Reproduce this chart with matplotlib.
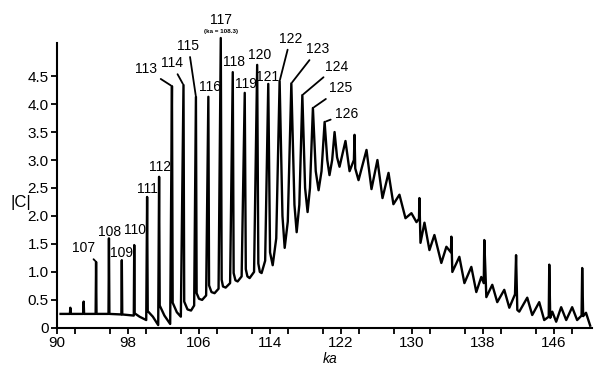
import matplotlib
matplotlib.use("Agg")
import matplotlib.pyplot as plt
from matplotlib.ticker import MultipleLocator, FixedLocator

plt.rcParams['font.family'] = ['Liberation Sans Narrow', 'Liberation Sans', 'DejaVu Sans']

# |C| against ka, vertices of the traced curve
ka = [90.4,
      91.45, 91.5, 91.55, 92.95, 93.0, 93.05,
      94.35, 94.4, 94.45, 95.8, 95.85, 95.9,
      97.25, 97.3, 97.35, 98.65, 98.7, 98.75,
      99.3, 100.05, 100.15, 100.22, 100.8, 101.4, 101.5, 101.57,
      102.1, 102.75, 102.95, 103.03, 103.5, 103.95, 104.25, 104.33,
      104.7, 105.1, 105.45, 105.65, 105.73,
      106.0, 106.35, 106.8, 107.05, 107.13,
      107.4, 107.75, 108.2, 108.45, 108.55,
      108.7, 109.0, 109.5, 109.8, 109.9,
      110.1, 110.35, 110.8, 111.15, 111.27,
      111.45, 111.7, 112.2, 112.55, 112.68,
      112.85, 113.05, 113.45, 113.8, 114.0,
      114.3, 114.7, 115.08, 115.4, 115.65, 116.0, 116.4, 116.75,
      117.0, 117.3, 117.64, 117.95, 118.23, 118.5, 118.83, 119.15,
      119.47, 119.8, 120.15, 120.45, 120.7, 121.0, 121.27, 121.55,
      121.83, 122.5, 122.96, 123.45, 123.52, 123.6, 123.97, 124.87,
      125.43, 126.1, 126.67, 127.35, 127.9, 128.58, 129.26, 129.93,
      130.5, 130.78, 130.83, 130.95, 131.4, 131.96, 132.52, 133.3,
      133.87, 134.38, 134.43, 134.54, 135.33, 135.9, 136.68, 137.24,
      137.8, 138.08, 138.14, 138.37, 139.04, 139.6, 140.39, 140.96,
      141.6, 141.72, 141.86, 142.08, 142.98, 143.54, 144.33, 144.89,
      145.4, 145.46, 145.57, 145.8, 146.24, 146.8, 147.37, 148.04,
      148.6, 149.1, 149.17, 149.28, 149.6, 150.07]
absC = [0.25,
        0.25, 0.36, 0.25, 0.25, 0.47, 0.25,
        0.25, 1.18, 0.25, 0.25, 1.60, 0.25,
        0.24, 1.21, 0.24, 0.22, 1.48, 0.26,
        0.20, 0.14, 2.34, 0.30, 0.20, 0.05, 2.70, 0.40,
        0.22, 0.07, 4.32, 0.45, 0.28, 0.20, 4.34, 0.47,
        0.33, 0.31, 0.40, 4.13, 0.62,
        0.52, 0.50, 0.58, 4.13, 0.76,
        0.64, 0.62, 0.70, 5.18, 0.86,
        0.74, 0.72, 0.80, 4.57, 0.98,
        0.85, 0.83, 0.92, 4.20, 1.05,
        0.92, 0.89, 1.00, 4.70, 1.15,
        1.00, 0.98, 1.20, 4.36, 1.35,
        1.12, 1.60, 4.41, 2.00, 1.43, 1.90, 4.37, 2.20,
        1.71, 2.20, 4.16, 2.50, 2.07, 2.50, 3.93, 2.80,
        2.46, 2.80, 3.68, 3.00, 2.73, 3.00, 3.50, 3.05,
        2.88, 3.34, 2.80, 3.00, 3.45, 2.85, 2.64, 3.18,
        2.48, 3.00, 2.32, 2.77, 2.21, 2.38, 1.96, 2.05,
        1.89, 1.95, 2.32, 1.52, 1.88, 1.39, 1.66, 1.16,
        1.45, 1.35, 1.63, 1.00, 1.27, 0.80, 1.09, 0.64,
        0.91, 0.80, 1.57, 0.55, 0.77, 0.46, 0.68, 0.36,
        0.60, 1.30, 0.32, 0.29, 0.54, 0.23, 0.46, 0.14,
        0.20, 1.13, 0.18, 0.29, 0.11, 0.37, 0.14, 0.37,
        0.14, 0.22, 1.07, 0.21, 0.27, 0.04]

# mode numbers n and their resonance peaks (ka, |C|)
modes = [107, 108, 109, 110, 111, 112, 113, 114, 115, 116,
         117, 118, 119, 120, 121, 122, 123, 124, 125, 126]
mode_ka = [94.4, 95.85, 97.3, 98.7, 100.15, 101.5, 102.95, 104.25, 105.65, 107.05,
           108.45, 109.8, 111.15, 112.55, 113.8, 115.08, 116.4, 117.64, 118.83, 120.15]
mode_c = [1.18, 1.60, 1.21, 1.48, 2.34, 2.70, 4.32, 4.34, 4.13, 4.13,
          5.18, 4.57, 4.20, 4.70, 4.36, 4.41, 4.37, 4.16, 3.93, 3.68]

# where each mode number is written, and whether a leader line joins it to the peak
label_pos = {107: (92.95, 1.42, True), 108: (95.9, 1.72, False), 109: (97.3, 1.34, False),
             110: (98.8, 1.75, False), 111: (100.15, 2.49, False), 112: (101.6, 2.88, False),
             113: (100.0, 4.62, True), 114: (102.9, 4.73, True), 115: (104.8, 5.04, True),
             116: (107.2, 4.31, False), 117: (108.5, 5.50, False), 118: (109.9, 4.76, False),
             119: (111.25, 4.36, False), 120: (112.8, 4.88, False), 121: (113.75, 4.49, False),
             122: (116.3, 5.17, True), 123: (119.4, 4.98, True), 124: (121.45, 4.67, True),
             125: (122.0, 4.28, True), 126: (122.6, 3.83, True)}

fig = plt.figure(figsize=(5.94, 3.68), dpi=100)
ax = fig.add_axes([0.096, 0.109, 0.901, 0.774])

ax.plot(ka, absC, color='black', lw=1.7, solid_joinstyle='round', clip_on=False)

for n, x, c in zip(modes, mode_ka, mode_c):
    tx, ty, leader = label_pos[n]
    if leader:
        ax.annotate(str(n), xy=(x, c), xytext=(tx, ty), ha='center', va='center',
                    fontsize=10, annotation_clip=False,
                    arrowprops=dict(arrowstyle='-', lw=1.3, color='black',
                                    shrinkA=1, shrinkB=1))
    else:
        ax.text(tx, ty, str(n), ha='center', va='center', fontsize=10, clip_on=False)

ax.text(108.5, 5.29, '(ka = 108.3)', ha='center', va='center', fontsize=4.5,
        fontweight='bold', clip_on=False)

ax.set_xlim(90, 150.3)
ax.set_ylim(0, 5.09)
ax.spines['top'].set_visible(False)
ax.spines['right'].set_visible(False)
ax.spines['left'].set_linewidth(1.5)
ax.spines['bottom'].set_linewidth(1.5)

ax.xaxis.set_major_locator(FixedLocator([90, 98, 106, 114, 122, 130, 138, 146]))
ax.xaxis.set_minor_locator(MultipleLocator(4))
ax.yaxis.set_major_locator(FixedLocator([0, 0.5, 1, 1.5, 2, 2.5, 3, 3.5, 4, 4.5]))
ax.set_yticklabels(['0', '0.5', '1.0', '1.5', '2.0', '2.5', '3.0', '3.5', '4.0', '4.5'])
ax.tick_params(axis='both', which='both', direction='out', width=1.3, labelsize=11)
ax.tick_params(axis='x', which='both', length=4, pad=2)
ax.tick_params(axis='y', length=4, pad=2)

ax.set_xlabel('ka', fontsize=10, style='italic')
ax.xaxis.set_label_coords(0.51, -0.085)
fig.text(0.035, 0.45, '|C|', fontsize=12, ha='center', va='center')

fig.savefig('out.png', dpi=100)
